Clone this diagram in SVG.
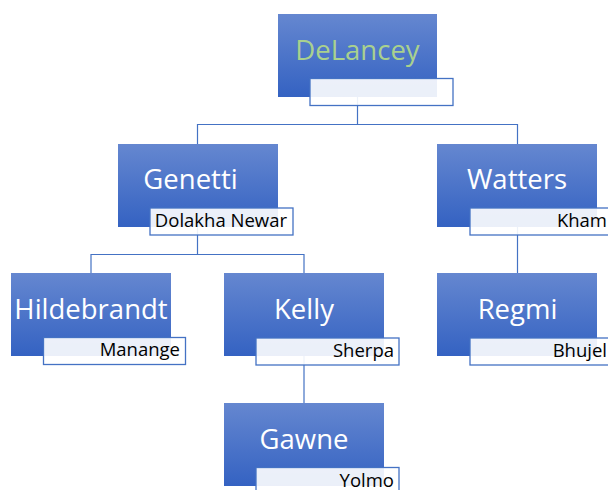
<svg xmlns="http://www.w3.org/2000/svg" width="608" height="490" viewBox="0 0 608 490">
<defs>
<linearGradient id="g" x1="0" y1="0" x2="0" y2="1">
<stop offset="0" stop-color="#6587D0"/>
<stop offset="1" stop-color="#3462C2"/>
</linearGradient>
<style>
.m{fill:url(#g)}
.s{fill:#fff;fill-opacity:0.9;stroke:#4472C4;stroke-width:1.3}
.t{font-family:"Open Sans",sans-serif;font-size:27.5px;fill:#fff;text-anchor:middle}
.st{font-family:"Open Sans",sans-serif;font-size:18.5px;fill:#000;text-anchor:end}
.c{fill:none;stroke:#4472C4;stroke-width:1.2}
</style>
</defs>
<rect width="608" height="490" fill="#fff"/>
<g id="connectors">
<path class="c" d="M357.5 97 V124.5 M197.5 144 V124.5 H517.5 V144 M197.5 227 V254.5 M91 273 V254.5 H304 V273 M517.5 227 V273 M304 356 V403"/>
</g>
<g id="delancey">
<rect class="m" x="278" y="14" width="159" height="83"/>
<rect class="s" x="310" y="78.5" width="143" height="27"/>
<text class="t" x="357.5" y="60" style="fill:#A9D18E">DeLancey</text>
</g>
<g id="genetti">
<rect class="m" x="118" y="144" width="160" height="83"/>
<rect class="s" x="150" y="208" width="143" height="27"/>
<text class="t" x="190.5" y="189">Genetti</text>
<text class="st" x="287" y="227">Dolakha Newar</text>
</g>
<g id="watters">
<rect class="m" x="437" y="144" width="160" height="83"/>
<rect class="s" x="470" y="208" width="143" height="27"/>
<text class="t" x="517" y="189">Watters</text>
<text class="st" x="607" y="227">Kham</text>
</g>
<g id="hildebrandt">
<rect class="m" x="11" y="273" width="160" height="83"/>
<rect class="s" x="43.5" y="337.5" width="142" height="27"/>
<text class="t" x="91" y="318.5">Hildebrandt</text>
<text class="st" x="180" y="356">Manange</text>
</g>
<g id="kelly">
<rect class="m" x="224" y="273" width="160" height="83"/>
<rect class="s" x="256" y="338" width="143" height="27"/>
<text class="t" x="304" y="319">Kelly</text>
<text class="st" x="394" y="356.5">Sherpa</text>
</g>
<g id="regmi">
<rect class="m" x="437" y="273" width="160" height="83"/>
<rect class="s" x="470" y="338" width="143" height="27"/>
<text class="t" x="517.5" y="319">Regmi</text>
<text class="st" x="607" y="356.5">Bhujel</text>
</g>
<g id="gawne">
<rect class="m" x="224" y="403" width="160" height="83"/>
<rect class="s" x="256" y="467.5" width="143" height="27"/>
<text class="t" x="304" y="449">Gawne</text>
<text class="st" x="394" y="486.5">Yolmo</text>
</g>
</svg>
